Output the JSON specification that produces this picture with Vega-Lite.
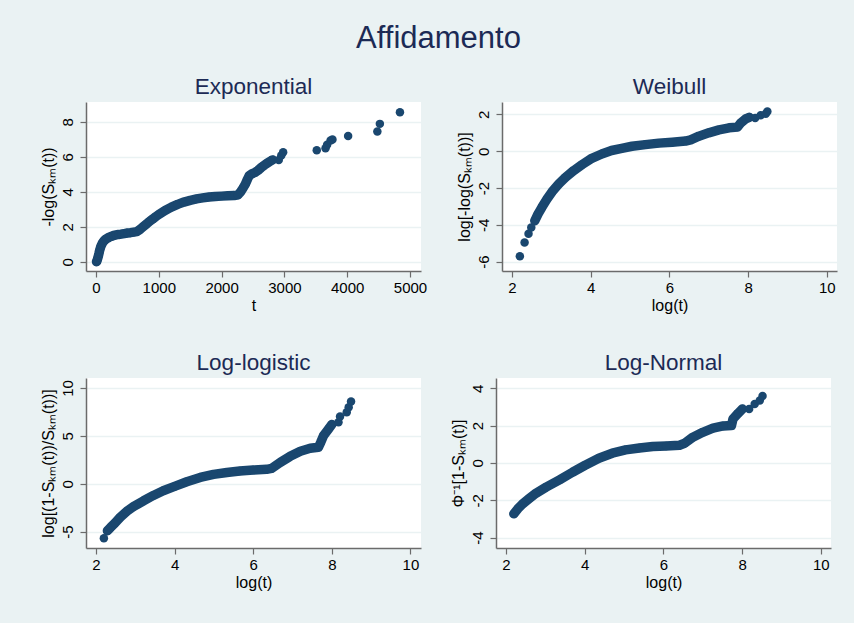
{
  "$schema": "https://vega.github.io/schema/vega-lite/v6.json",
  "description": "Graphical checks of survival models (Stata style 2x2 panel).",
  "padding": {"left": 40, "top": 23, "right": 17, "bottom": 38},
  "title": {"text": "Affidamento", "fontSize": 31, "offset": 20.5, "anchor": "middle"},
  "datasets": {
    "exp": [
      {"x": 9, "y": 0.003}, {"x": 12, "y": 0.02}, {"x": 15, "y": 0.05}, {"x": 20, "y": 0.1},
      {"x": 25, "y": 0.16}, {"x": 32, "y": 0.25}, {"x": 40, "y": 0.36}, {"x": 48, "y": 0.48},
      {"x": 55, "y": 0.6}, {"x": 65, "y": 0.73}, {"x": 75, "y": 0.85}, {"x": 88, "y": 0.96},
      {"x": 100, "y": 1.05}, {"x": 115, "y": 1.13}, {"x": 130, "y": 1.2}, {"x": 150, "y": 1.27},
      {"x": 170, "y": 1.32}, {"x": 195, "y": 1.37}, {"x": 220, "y": 1.42}, {"x": 250, "y": 1.46},
      {"x": 280, "y": 1.5}, {"x": 320, "y": 1.53}, {"x": 360, "y": 1.56}, {"x": 400, "y": 1.58},
      {"x": 450, "y": 1.61}, {"x": 500, "y": 1.64}, {"x": 550, "y": 1.66}, {"x": 600, "y": 1.69},
      {"x": 650, "y": 1.72}, {"x": 700, "y": 1.84}, {"x": 750, "y": 2.0}, {"x": 800, "y": 2.14},
      {"x": 850, "y": 2.3}, {"x": 900, "y": 2.43}, {"x": 950, "y": 2.57}, {"x": 1000, "y": 2.7},
      {"x": 1100, "y": 2.93}, {"x": 1200, "y": 3.12}, {"x": 1300, "y": 3.28}, {"x": 1400, "y": 3.41},
      {"x": 1500, "y": 3.51}, {"x": 1600, "y": 3.59}, {"x": 1700, "y": 3.65}, {"x": 1800, "y": 3.7},
      {"x": 1900, "y": 3.73}, {"x": 2000, "y": 3.75}, {"x": 2100, "y": 3.77}, {"x": 2200, "y": 3.78},
      {"x": 2260, "y": 3.82}, {"x": 2300, "y": 3.98}, {"x": 2340, "y": 4.2}, {"x": 2380, "y": 4.45},
      {"x": 2410, "y": 4.7}, {"x": 2440, "y": 4.92}, {"x": 2480, "y": 5.02}, {"x": 2530, "y": 5.1},
      {"x": 2580, "y": 5.22}, {"x": 2630, "y": 5.38}, {"x": 2680, "y": 5.52}, {"x": 2730, "y": 5.64},
      {"x": 2790, "y": 5.78}, {"x": 2810, "y": 5.82}, {"x": 2910, "y": 5.82}, {"x": 2950, "y": 6.07},
      {"x": 2980, "y": 6.26}, {"x": 3515, "y": 6.37}, {"x": 3655, "y": 6.49}, {"x": 3680, "y": 6.68},
      {"x": 3735, "y": 6.93}, {"x": 3765, "y": 6.98}, {"x": 4015, "y": 7.18}, {"x": 4480, "y": 7.44},
      {"x": 4520, "y": 7.88}, {"x": 4840, "y": 8.55}
    ],
    "wei": [
      {"x": 2.2, "y": -5.71}, {"x": 2.32, "y": -4.96}, {"x": 2.42, "y": -4.49}, {"x": 2.49, "y": -4.15},
      {"x": 2.58, "y": -3.78}, {"x": 2.66, "y": -3.42}, {"x": 2.76, "y": -3.05}, {"x": 2.89, "y": -2.6},
      {"x": 3.02, "y": -2.2}, {"x": 3.19, "y": -1.78}, {"x": 3.36, "y": -1.42}, {"x": 3.57, "y": -1.05},
      {"x": 3.78, "y": -0.73}, {"x": 4.0, "y": -0.42}, {"x": 4.28, "y": -0.15}, {"x": 4.53, "y": 0.04},
      {"x": 4.79, "y": 0.16}, {"x": 5.05, "y": 0.27}, {"x": 5.39, "y": 0.36}, {"x": 5.73, "y": 0.44},
      {"x": 6.07, "y": 0.49}, {"x": 6.41, "y": 0.55}, {"x": 6.54, "y": 0.62}, {"x": 6.75, "y": 0.82},
      {"x": 7.0, "y": 1.0}, {"x": 7.26, "y": 1.16}, {"x": 7.52, "y": 1.27}, {"x": 7.73, "y": 1.31},
      {"x": 7.81, "y": 1.53}, {"x": 7.94, "y": 1.76}, {"x": 8.03, "y": 1.84}, {"x": 8.18, "y": 1.8},
      {"x": 8.32, "y": 1.95}, {"x": 8.45, "y": 2.04}, {"x": 8.49, "y": 2.16}
    ],
    "llog": [
      {"x": 2.2, "y": -5.68}, {"x": 2.29, "y": -4.91}, {"x": 2.37, "y": -4.56}, {"x": 2.48, "y": -4.11},
      {"x": 2.61, "y": -3.52}, {"x": 2.78, "y": -2.89}, {"x": 2.95, "y": -2.4}, {"x": 3.21, "y": -1.78},
      {"x": 3.46, "y": -1.22}, {"x": 3.71, "y": -0.73}, {"x": 4.0, "y": -0.28}, {"x": 4.31, "y": 0.21},
      {"x": 4.65, "y": 0.66}, {"x": 4.99, "y": 0.98}, {"x": 5.33, "y": 1.18}, {"x": 5.66, "y": 1.32},
      {"x": 6.0, "y": 1.43}, {"x": 6.34, "y": 1.5}, {"x": 6.47, "y": 1.6}, {"x": 6.69, "y": 2.23},
      {"x": 6.94, "y": 2.86}, {"x": 7.2, "y": 3.4}, {"x": 7.45, "y": 3.71}, {"x": 7.66, "y": 3.8},
      {"x": 7.72, "y": 4.34}, {"x": 7.79, "y": 5.03}, {"x": 7.92, "y": 5.73}, {"x": 8.0, "y": 6.18},
      {"x": 8.17, "y": 6.43}, {"x": 8.21, "y": 7.02}, {"x": 8.38, "y": 7.47}, {"x": 8.43, "y": 7.99},
      {"x": 8.49, "y": 8.58}
    ],
    "lnorm": [
      {"x": 2.2, "y": -2.73}, {"x": 2.3, "y": -2.46}, {"x": 2.42, "y": -2.2}, {"x": 2.59, "y": -1.91},
      {"x": 2.76, "y": -1.63}, {"x": 3.02, "y": -1.3}, {"x": 3.36, "y": -0.91}, {"x": 3.69, "y": -0.5},
      {"x": 4.0, "y": -0.14}, {"x": 4.36, "y": 0.25}, {"x": 4.7, "y": 0.52}, {"x": 5.04, "y": 0.7},
      {"x": 5.39, "y": 0.8}, {"x": 5.73, "y": 0.88}, {"x": 6.07, "y": 0.91}, {"x": 6.41, "y": 0.95},
      {"x": 6.54, "y": 1.05}, {"x": 6.75, "y": 1.38}, {"x": 7.0, "y": 1.64}, {"x": 7.26, "y": 1.86},
      {"x": 7.52, "y": 1.98}, {"x": 7.73, "y": 2.0}, {"x": 7.77, "y": 2.36}, {"x": 7.9, "y": 2.66},
      {"x": 8.01, "y": 2.89}, {"x": 8.18, "y": 2.89}, {"x": 8.32, "y": 3.16}, {"x": 8.45, "y": 3.34},
      {"x": 8.52, "y": 3.59}
    ]
  },
  "vconcat": [
    {
      "hconcat": [
        {
          "title": "Exponential",
          "width": 335,
          "height": 169,
          "data": {"name": "exp"},
          "encoding": {
            "x": {"field": "x", "type": "quantitative", "title": "t",
              "scale": {"domain": [-159, 5175], "nice": false, "zero": false},
              "axis": {"values": [0, 1000, 2000, 3000, 4000, 5000]}},
            "y": {"field": "y", "type": "quantitative", "title": "-log(Sₖₘ(t))",
              "scale": {"domain": [-0.53, 9.13], "nice": false, "zero": false},
              "axis": {"values": [0, 2, 4, 6, 8]}}
          },
          "layer": [
            {"transform": [{"filter": "datum.x <= 2810"}],
             "mark": {"type": "line", "color": "#1a476f", "strokeWidth": 9.5, "strokeCap": "round", "strokeJoin": "round"},
             "encoding": {}},
            {"mark": {"type": "circle", "color": "#1a476f", "size": 72, "opacity": 1}}
          ]
        },
        {
          "title": "Weibull",
          "width": 335,
          "height": 169,
          "data": {"name": "wei"},
          "encoding": {
            "x": {"field": "x", "type": "quantitative", "title": "log(t)",
              "scale": {"domain": [1.746, 10.26], "nice": false, "zero": false},
              "axis": {"values": [2, 4, 6, 8, 10]}},
            "y": {"field": "y", "type": "quantitative", "title": "log[-log(Sₖₘ(t))]",
              "scale": {"domain": [-6.51, 2.675], "nice": false, "zero": false},
              "axis": {"values": [-6, -4, -2, 0, 2]}}
          },
          "layer": [
            {"transform": [{"filter": "datum.x >= 2.58 && datum.x <= 8.03"}],
             "mark": {"type": "line", "color": "#1a476f", "strokeWidth": 9.5, "strokeCap": "round", "strokeJoin": "round"},
             "encoding": {}},
            {"mark": {"type": "circle", "color": "#1a476f", "size": 72, "opacity": 1}}
          ]
        }
      ]
    },
    {
      "hconcat": [
        {
          "title": "Log-logistic",
          "width": 335,
          "height": 170,
          "data": {"name": "llog"},
          "encoding": {
            "x": {"field": "x", "type": "quantitative", "title": "log(t)",
              "scale": {"domain": [1.745, 10.27], "nice": false, "zero": false},
              "axis": {"values": [2, 4, 6, 8, 10]}},
            "y": {"field": "y", "type": "quantitative", "title": "log[(1-Sₖₘ(t))/Sₖₘ(t))]",
              "scale": {"domain": [-6.71, 11.04], "nice": false, "zero": false},
              "axis": {"values": [-5, 0, 5, 10]}}
          },
          "layer": [
            {"transform": [{"filter": "datum.x >= 2.29 && datum.x <= 8.0"}],
             "mark": {"type": "line", "color": "#1a476f", "strokeWidth": 9.5, "strokeCap": "round", "strokeJoin": "round"},
             "encoding": {}},
            {"mark": {"type": "circle", "color": "#1a476f", "size": 72, "opacity": 1}}
          ]
        },
        {
          "title": "Log-Normal",
          "width": 335,
          "height": 170,
          "data": {"name": "lnorm"},
          "encoding": {
            "x": {"field": "x", "type": "quantitative", "title": "log(t)",
              "scale": {"domain": [1.746, 10.26], "nice": false, "zero": false},
              "axis": {"values": [2, 4, 6, 8, 10]}},
            "y": {"field": "y", "type": "quantitative", "title": "Φ⁻¹[1-Sₖₘ(t)]",
              "scale": {"domain": [-4.56, 4.55], "nice": false, "zero": false},
              "axis": {"values": [-4, -2, 0, 2, 4]}}
          },
          "layer": [
            {"transform": [{"filter": "datum.x <= 8.01"}],
             "mark": {"type": "line", "color": "#1a476f", "strokeWidth": 9.5, "strokeCap": "round", "strokeJoin": "round"},
             "encoding": {}},
            {"mark": {"type": "circle", "color": "#1a476f", "size": 72, "opacity": 1}}
          ]
        }
      ]
    }
  ],
  "spacing": 38,
  "config": {
    "background": "#eaf2f3",
    "font": "Liberation Sans",
    "view": {"fill": "white", "stroke": null},
    "concat": {"spacing": 29},
    "title": {"font": "Liberation Sans", "fontWeight": "normal", "color": "#1c2a55", "fontSize": 22.5, "offset": 4, "anchor": "middle"},
    "axis": {
      "domainColor": "#6b6b6b", "domainWidth": 1.5,
      "tickColor": "#6b6b6b", "tickSize": 6, "tickWidth": 1.2,
      "labelFont": "Liberation Sans", "labelFontSize": 15, "labelColor": "#000000", "labelPadding": 3,
      "labelExpr": "'' + datum.value",
      "titleFont": "Liberation Sans", "titleFontSize": 16, "titleFontWeight": "normal", "titleColor": "#000000",
      "gridColor": "#eaf2f3", "gridWidth": 1.5
    },
    "axisX": {"grid": false, "titlePadding": 2, "labelFlush": false},
    "axisY": {"grid": true, "labelAngle": -90, "labelPadding": 5, "titlePadding": 4, "labelFlush": false}
  }
}
